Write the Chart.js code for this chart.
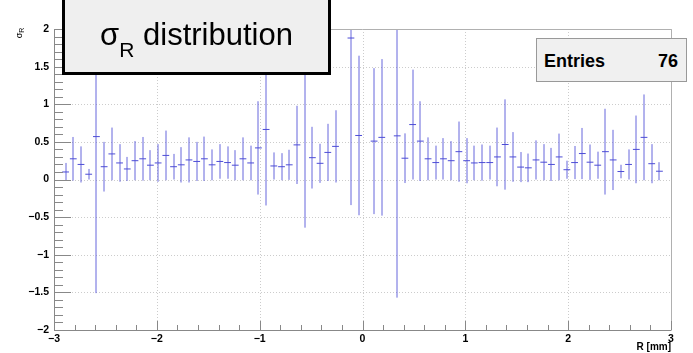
<!DOCTYPE html>
<html>
<head>
<meta charset="utf-8">
<script src="https://cdn.jsdelivr.net/npm/chart.js@4"></script>
<style>
  html, body { margin:0; padding:0; background:#fff; }
  #wrap { position:relative; width:693px; height:353px; overflow:hidden; background:#fff; font-family:'Liberation Sans', Arial, Helvetica, sans-serif; }
  #c { position:absolute; left:0; top:0; }
  #title { position:absolute; left:62px; top:-6px; width:269px; height:81px; box-sizing:border-box; border:3px solid #000; background:#efefef; }
  #title .t { position:absolute; left:0; right:0; top:22px; text-align:center; font-size:31px; line-height:31px; color:#000; white-space:nowrap; }
  #title .t .sub { font-size:21px; position:relative; top:12px; }
  #stats { position:absolute; left:536px; top:38px; width:151px; height:44px; box-sizing:border-box; border:1px solid #999; background:#f0f0f0; font-weight:bold; font-size:18px; color:#000; }
  #stats .l { position:absolute; left:7px; top:13px; line-height:18px; }
  #stats .r { position:absolute; right:8px; top:13px; line-height:18px; }
  #ytitle { position:absolute; left:19px; top:33px; transform:translate(-50%,-50%) rotate(-90deg); font-size:9px; white-space:nowrap; color:#000; }
  #ytitle .sub { font-size:7px; position:relative; top:2px; }
</style>
</head>
<body>
<div id="wrap">
  <canvas id="c" width="693" height="353"></canvas>
  <div id="ytitle">σ<span class="sub">R</span></div>
  <div id="title"><div class="t">σ<span class="sub">R</span> distribution</div></div>
  <div id="stats"><span class="l">Entries</span><span class="r">76</span></div>
</div>
<script>
// ---- histogram definition ----
const nBins = 80;
const xLow = -3;
const xHigh = 3;

// bin contents (sigma_R), null = empty bin
const values = [
  null, 0.10, 0.275, 0.20, 0.07, 0.57, 0.17, 0.34, 0.22, 0.14,
  0.25, 0.275, 0.19, 0.22, 0.32, 0.17, 0.195, 0.26, 0.24, 0.275,
  0.195, 0.24, 0.225, 0.19, 0.275, 0.22, 0.42, 0.665, 0.18, 0.17,
  0.195, 0.46, 1.6, 0.29, 0.215, 0.36, 0.44, null, 1.88, 0.585,
  null, 0.51, 0.56, null, 0.58, 0.283, 0.73, 0.51, 0.275, 0.225,
  0.275, 0.25, 0.37, 0.25, 0.22, 0.225, 0.225, 0.30, 0.465, 0.30,
  0.165, 0.155, 0.26, 0.23, 0.20, 0.30, 0.13, 0.225, 0.345, 0.23,
  0.19, 0.37, 0.26, 0.106, 0.20, 0.40, 0.56, 0.21, 0.11, null
];

// bin errors (symmetric)
const errors = [
  null, 0.12, 0.29, 0.24, 0.07, 2.08, 0.33, 0.35, 0.25, 0.16,
  0.26, 0.29, 0.20, 0.25, 0.33, 0.17, 0.235, 0.30, 0.26, 0.295,
  0.205, 0.23, 0.215, 0.20, 0.285, 0.23, 0.62, 1.01, 0.18, 0.18,
  0.20, 0.52, 2.24, 0.41, 0.26, 0.38, 0.48, null, 2.22, 1.06,
  null, 0.97, 1.04, null, 2.15, 0.33, 0.73, 0.53, 0.285, 0.225,
  0.275, 0.26, 0.40, 0.30, 0.23, 0.24, 0.225, 0.39, 0.60, 0.33,
  0.20, 0.19, 0.26, 0.24, 0.22, 0.31, 0.12, 0.22, 0.34, 0.235,
  0.18, 0.57, 0.40, 0.09, 0.20, 0.45, 0.57, 0.26, 0.12, null
];

// tick values
const xTickValues = [-3, -2, -1, 0, 1, 2, 3];
const yTickValues = [-2, -1.5, -1, -0.5, 0, 0.5, 1, 1.5, 2];

// ---- derived ----
const binWidth = (xHigh - xLow) / nBins;
const binCenters = Array.from({length: nBins}, (_, i) => xLow + (i + 0.5) * binWidth);
const points = [];
binCenters.forEach((x, i) => { if (values[i] !== null) points.push({x: x, y: values[i], e: errors[i]}); });

const markColor = '#4c4cd6';
const fontFam = "'Liberation Sans', Arial, Helvetica, sans-serif";

function fmt(v) {
  const r = Math.round(v * 10) / 10;
  let s = String(Math.abs(r));
  return (r < 0 ? '\u2212' : '') + s;
}

const rootFrame = {
  id: 'rootFrame',
  beforeDatasetsDraw(chart) {
    const {ctx, chartArea: a, scales: {x, y}} = chart;
    ctx.save();
    ctx.strokeStyle = '#cccccc';
    ctx.lineWidth = 1;
    ctx.setLineDash([1, 2]);
    xTickValues.forEach(v => {
      const px = Math.round(x.getPixelForValue(v)) + 0.5;
      ctx.beginPath(); ctx.moveTo(px, a.top); ctx.lineTo(px, a.bottom); ctx.stroke();
    });
    yTickValues.forEach(v => {
      const py = Math.round(y.getPixelForValue(v)) + 0.5;
      ctx.beginPath(); ctx.moveTo(a.left, py); ctx.lineTo(a.right, py); ctx.stroke();
    });
    ctx.restore();

    // error bars (soft, antialiased like the ROOT image)
    ctx.save();
    ctx.beginPath();
    ctx.rect(a.left, a.top, a.right - a.left, a.bottom - a.top);
    ctx.clip();
    ctx.strokeStyle = markColor;
    ctx.globalAlpha = 0.85;
    ctx.lineWidth = 1;
    points.forEach(p => {
      const px = Math.round(x.getPixelForValue(p.x));
      const y1 = y.getPixelForValue(p.y - p.e);
      const y2 = y.getPixelForValue(p.y + p.e);
      ctx.beginPath(); ctx.moveTo(px, y1); ctx.lineTo(px, y2); ctx.stroke();
    });
    ctx.restore();
  },
  afterDatasetsDraw(chart) {
    const {ctx, chartArea: a, scales: {x, y}} = chart;
    ctx.save();
    ctx.lineWidth = 1;
    ctx.strokeStyle = '#b0b0b0';
    ctx.beginPath();
    ctx.moveTo(a.left, a.top + 0.5); ctx.lineTo(a.right + 0.5, a.top + 0.5); ctx.lineTo(a.right + 0.5, a.bottom);
    ctx.stroke();
    ctx.strokeStyle = '#888';
    ctx.beginPath();
    ctx.moveTo(a.left + 0.5, a.top); ctx.lineTo(a.left + 0.5, a.bottom + 0.5); ctx.lineTo(a.right + 0.5, a.bottom + 0.5);
    ctx.stroke();
    ctx.beginPath();
    for (let k = 0; k <= 40; k++) {
      const v = -2 + k * 0.1;
      const py = Math.round(y.getPixelForValue(v)) + 0.5;
      const len = (k % 5 === 0) ? 17 : 9;
      ctx.moveTo(a.left, py); ctx.lineTo(a.left + len, py);
    }
    for (let k = 0; k <= 30; k++) {
      const v = -3 + k * 0.2;
      const px = Math.round(x.getPixelForValue(v)) + 0.5;
      const len = (k % 5 === 0) ? 9 : 5;
      ctx.moveTo(px, a.bottom); ctx.lineTo(px, a.bottom - len);
    }
    ctx.stroke();
    ctx.restore();
  }
};

new Chart(document.getElementById('c'), {
  type: 'scatter',
  data: {
    datasets: [{
      data: points,
      pointStyle: 'line',
      pointRadius: 3.4,
      pointHoverRadius: 3.4,
      borderColor: markColor,
      backgroundColor: markColor,
      borderWidth: 1,
      showLine: false
    }]
  },
  options: {
    responsive: false,
    animation: false,
    devicePixelRatio: 1,
    events: [],
    layout: { padding: { left: 0, top: 29, right: 22, bottom: 0 } },
    plugins: { legend: { display: false }, tooltip: { enabled: false }, title: { display: false } },
    scales: {
      x: {
        type: 'linear', min: xLow, max: xHigh,
        grid: { display: false, drawTicks: false },
        border: { display: false },
        afterBuildTicks: s => { s.ticks = xTickValues.map(v => ({value: v})); },
        afterFit: s => { s.height = 23; },
        ticks: {
          autoSkip: false, maxRotation: 0, padding: 3,
          color: '#000', font: { family: fontFam, size: 10.5, weight: 'bold' },
          callback: v => fmt(v)
        },
        title: {
          display: true, text: 'R [mm]', align: 'end', color: '#000', padding: 0,
          font: { family: fontFam, size: 10, weight: 'bold' }
        }
      },
      y: {
        type: 'linear', min: -2, max: 2,
        grid: { display: false, drawTicks: false },
        border: { display: false },
        afterBuildTicks: s => { s.ticks = yTickValues.map(v => ({value: v})); },
        afterFit: s => { s.width = 54; },
        ticks: {
          autoSkip: false, padding: 5,
          color: '#000', font: { family: fontFam, size: 10.5, weight: 'bold' },
          callback: v => fmt(v)
        }
      }
    }
  },
  plugins: [rootFrame]
});
</script>
</body>
</html>
